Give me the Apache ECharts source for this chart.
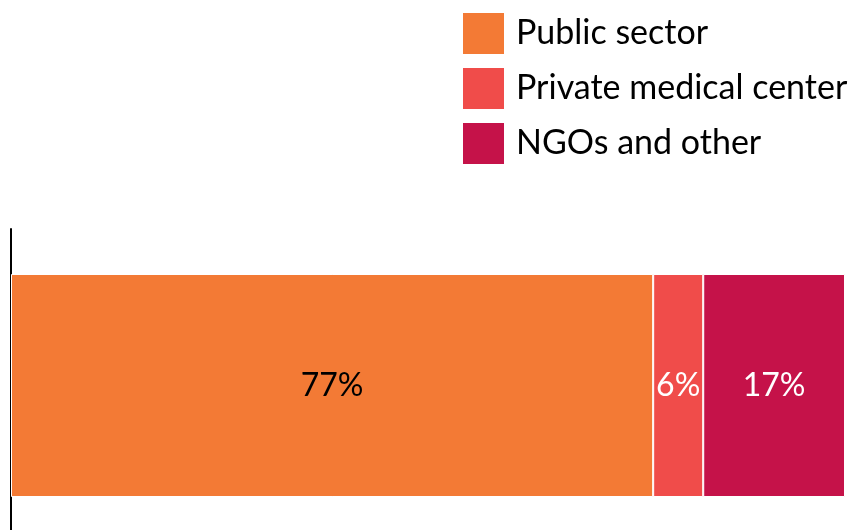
<!DOCTYPE html>
<html>
<head>
<meta charset="utf-8">
<script src="https://cdn.jsdelivr.net/npm/echarts@6/dist/echarts.min.js"></script>
<style>html,body{margin:0;padding:0;background:#fff}#c{width:865px;height:530px}</style>
</head>
<body>
<div id="c"></div>
<script>
const categories = ['All'];
const seriesNames = ['Public sector', 'Private medical center', 'NGOs and other'];
const publicSector = [77];
const privateMedical = [6];
const ngosOther = [17];
const colors = ['#F37A35', '#F04C4A', '#C51249'];
const labelColors = ['#000000', '#ffffff', '#ffffff'];
const values = [publicSector, privateMedical, ngosOther];
const FONT = 'Lato';

const chart = echarts.init(document.getElementById('c'));
chart.setOption({
  animation: false,
  textStyle: { fontFamily: FONT },
  legend: {
    orient: 'vertical',
    left: 463, top: 13, padding: 0,
    itemWidth: 41, itemHeight: 41, itemGap: 14,
    icon: 'rect',
    itemStyle: { borderWidth: 0 },
    data: seriesNames,
    textStyle: { fontFamily: FONT, fontSize: 34, lineHeight: 41, color: '#000', padding: [0, 0, 0, 7] }
  },
  grid: { left: 11, right: 20, top: 229, height: 313, outerBoundsMode: 'none', containLabel: false },
  xAxis: { type: 'value', min: 0, max: 100, show: false },
  yAxis: {
    type: 'category', data: categories,
    axisLine: { show: true, lineStyle: { color: '#000', width: 2 } },
    axisTick: { show: false }, axisLabel: { show: false }, splitLine: { show: false }
  },
  series: seriesNames.map((n, i) => ({
    name: n, type: 'bar', stack: 'total', barWidth: 223,
    data: values[i],
    itemStyle: { color: colors[i], borderColor: '#fff', borderWidth: 1 },
    label: {
      show: true, position: 'inside', formatter: '{c}%',
      color: labelColors[i], fontSize: 32, fontFamily: FONT
    }
  }))
});
</script>
</body>
</html>
